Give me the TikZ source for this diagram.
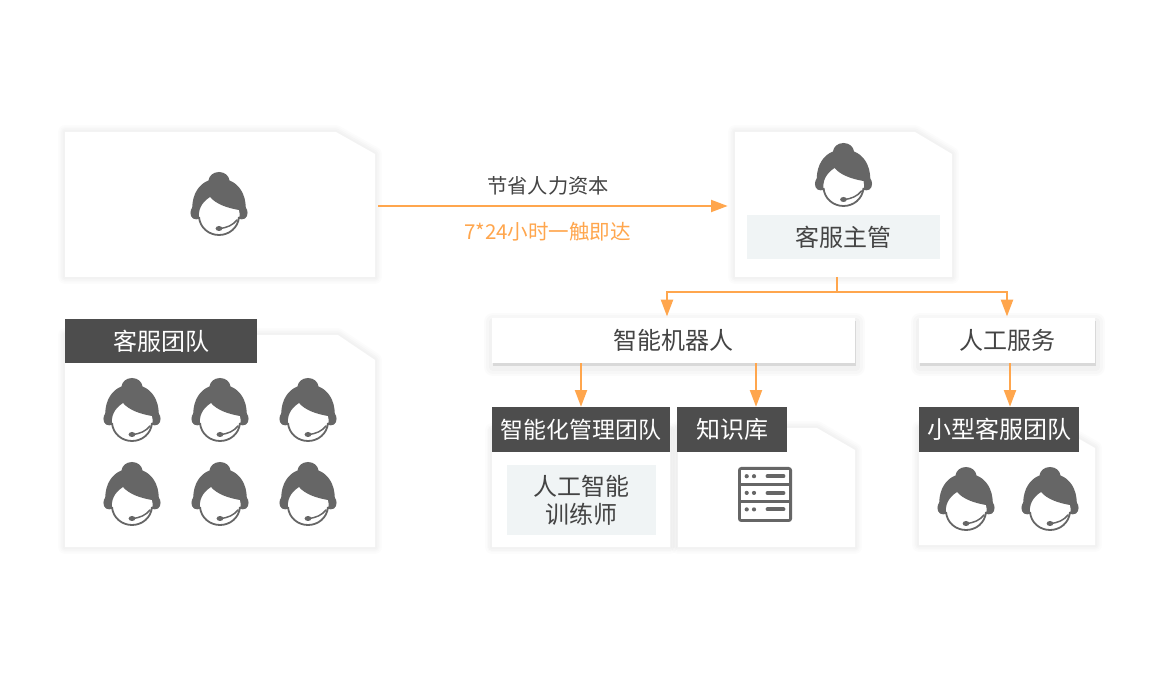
\documentclass[tikz,border=0pt]{standalone}
\usepackage{fontspec}
\setmainfont{Noto Sans CJK SC}
\usetikzlibrary{arrows.meta}
\definecolor{orangeline}{HTML}{FFA64D}
\definecolor{headerdark}{HTML}{4D4D4D}
\definecolor{iconfill}{HTML}{666666}
\definecolor{textgrey}{HTML}{444444}
\definecolor{panelgrey}{HTML}{F0F4F5}
\tikzset{
  x=0.75pt,y=-0.75pt,
  softshadow/.style={
    preaction={draw=black,draw opacity=0.010,line width=10.5pt,line join=round,fill=none},
    preaction={draw=black,draw opacity=0.012,line width=8pt,line join=round,fill=none},
    preaction={draw=black,draw opacity=0.014,line width=5.5pt,line join=round,fill=none},
    preaction={draw=black,draw opacity=0.012,line width=3pt,line join=round,fill=none}},
  dropshadow/.style={
    preaction={draw=black,draw opacity=0.014,line width=14pt,line join=round,fill=none,transform canvas={xshift=0.8pt,yshift=-3pt}},
    preaction={draw=black,draw opacity=0.016,line width=10pt,line join=round,fill=none,transform canvas={xshift=0.8pt,yshift=-3pt}},
    preaction={draw=black,draw opacity=0.020,line width=6pt,line join=round,fill=none,transform canvas={xshift=0.8pt,yshift=-3pt}},
    preaction={fill=black,fill opacity=0.10,transform canvas={xshift=0.9pt,yshift=-2.2pt}}},
  cardface/.style={fill=white,softshadow},
  flatbox/.style={draw=none,inner sep=0pt,text=textgrey,font=\fontsize{18pt}{21pt}\selectfont,align=center},
  darkhead/.style={fill=headerdark,inner sep=0pt,text=white,font=\fontsize{18pt}{21pt}\selectfont,align=center},
  panel/.style={fill=panelgrey,inner sep=0pt,text=textgrey,font=\fontsize{18pt}{21.2pt}\selectfont,align=center},
  cardarea/.style={inner sep=0pt,outer sep=0pt},
  caption/.style={inner sep=0pt,font=\fontsize{15.2pt}{18pt}\selectfont},
  flowline/.style={draw=orangeline,line width=1.5pt},
  flowarrow/.style={flowline,-{Triangle[length=12.5pt,width=9pt]}},
}
% card with cut corner: name, x1,y1,x2,y2, cut x, cut y
\newcommand{\cutcard}[7]{%
  \path[cardface] (#2,#3) -- (#6,#3) -- (#4,#7) -- (#4,#5) -- (#2,#5) -- cycle;
  \path (#2,#3) -- node[cardarea,minimum width={0.75pt*(#4-#2)},minimum height={0.75pt*(#5-#3)}] (#1) {} (#4,#5);
}
\newcommand{\agent}[2]{%
  \begin{scope}[shift={(#1,#2)}]
    \draw[iconfill,line width=1.35pt] (-20,13) .. controls (-19,24) and (-10,31) .. (0,31)
       .. controls (10,31) and (19,24) .. (20,13);
    \fill[iconfill] (0,-32) .. controls (-6,-32) and (-10,-28) .. (-10.5,-23.5)
      .. controls (-20,-20) and (-26.5,-10) .. (-26.8,3.5)
      .. controls (-29,6) and (-29.5,12) .. (-26,14.5)
      .. controls (-24,15.5) and (-22,15.5) .. (-20,15)
      .. controls (-21,6) and (-18,-1) .. (-9,-7)
      .. controls (-3,0) and (8,4) .. (20,6)
      .. controls (21,9) and (21,12) .. (20,15)
      .. controls (22,15.5) and (24,15.5) .. (26,14.5)
      .. controls (29.5,12) and (29,6) .. (26.8,3.5)
      .. controls (26.5,-10) and (20,-20) .. (10.5,-23.5)
      .. controls (10,-28) and (6,-32) .. (0,-32) -- cycle;
    \draw[iconfill,line width=1.1pt,line cap=round] (0,24.5) .. controls (8,24) and (14,21) .. (18,16);
    \fill[iconfill] (0,24.5) ellipse[x radius=3.4,y radius=2.5];
  \end{scope}}
\begin{document}
\begin{tikzpicture}
\useasboundingbox (0,0) rectangle (1160,680);
\fill[white] (0,0) rectangle (1160,680);

% top row cards
\cutcard{sourcecard}{65}{132}{375}{277}{336}{154}
\cutcard{chief}{735}{132}{952}{277}{915}{154}
\agent{219}{204}
\agent{843.5}{175}
\node[panel,minimum width=144.75pt,minimum height=33pt] (chieflabel) at (843.5,237.5) {客服主管};

% left team card
\cutcard{teamcard}{65}{335}{375}{547}{338}{360}
\node[darkhead,minimum width=144pt,minimum height=33pt] (teamhead) at (161,341) {客服团队};
\agent{132}{410}\agent{220}{410}\agent{308}{410}
\agent{132}{494}\agent{220}{494}\agent{308}{494}

% boxes
\path[dropshadow,fill=white] (492,318) rectangle (855,363);
\node[flatbox,minimum width=272.25pt,minimum height=33.75pt] (robot) at (673.5,340.5) {智能机器人};
\path[dropshadow,fill=white] (919,318) rectangle (1095,363);
\node[flatbox,minimum width=132pt,minimum height=33.75pt] (human) at (1007,340.5) {人工服务};

% lower cards
\cutcard{mgmtcard}{492}{430}{670}{547}{670}{430}
\node[darkhead,font=\fontsize{17.2pt}{21pt}\selectfont,minimum width=133pt,minimum height=33.75pt] (mgmthead) at (581,429.5) {智能化管理团队};
\node[panel,minimum width=112pt,minimum height=52.5pt] (trainer) at (581.5,500) {人工智能\\训练师};

\cutcard{kbcard}{678}{428}{855}{547}{817}{450}
\node[darkhead,minimum width=82.5pt,minimum height=33.75pt] (kbhead) at (732,429.5) {知识库};

\cutcard{smallcard}{919}{428}{1095}{545}{1060}{448}
\node[darkhead,minimum width=120pt,minimum height=33.75pt] (smallhead) at (999,429.5) {小型客服团队};
\agent{966}{499}\agent{1050}{499}

% server icon
\draw[iconfill,line width=2.1pt,rounded corners=1.5pt] (739.4,468.4) rectangle (790.6,520.6);
\draw[iconfill,line width=2.1pt] (739.4,484.7) -- (790.6,484.7) (739.4,501.3) -- (790.6,501.3);
\foreach \yy in {476.2,492.9,509.4}{
  \fill[iconfill] (746.7,\yy) circle[radius=2.1] (754,\yy) circle[radius=2.1];
  \draw[iconfill,line width=2.9pt,line cap=round] (767.5,\yy) -- (783.5,\yy);
}

% captions
\node[caption,text=textgrey] (saving) at (548,185.5) {节省人力资本};
\node[caption,text=orangeline,font=\fontsize{15.4pt}{18pt}\selectfont] (always) at (547.5,231.5) {7*24小时一触即达};

% connectors
\coordinate (mainy) at (378,206);
\draw[flowarrow,shorten <=2.25pt,shorten >=5.5pt] (sourcecard.east |- mainy) -- (chief.west |- mainy);
\coordinate (junction) at (837,292);
\coordinate (leftdrop) at (667,292);
\coordinate (rightdrop) at (1007,292);
\draw[flowline] (junction |- chief.south) -- (junction);
\draw[flowarrow,shorten >=1pt] (junction) -- (leftdrop) -- (leftdrop |- robot.north);
\draw[flowarrow,shorten >=1pt] (junction) -- (rightdrop) -- (rightdrop |- human.north);
\draw[flowarrow] (mgmthead.north |- robot.south) -- (mgmthead.north);
\coordinate (kbdrop) at (756,385);
\draw[flowarrow] (kbdrop |- robot.south) -- (kbdrop |- kbhead.north);
\coordinate (smalldrop) at (1010,385);
\draw[flowarrow] (smalldrop |- human.south) -- (smalldrop |- smallhead.north);
\end{tikzpicture}
\end{document}
